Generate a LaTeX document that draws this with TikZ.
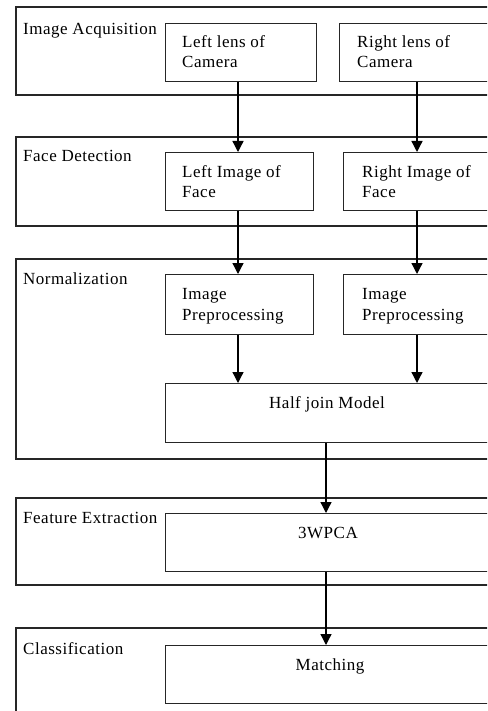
\documentclass[tikz,border=0pt]{standalone}
\usepackage{fontspec}
\setmainfont{Liberation Serif}[LetterSpace=3]
\usetikzlibrary{arrows.meta}
\begin{document}
\begin{tikzpicture}[x=1pt,y=-1pt,
  stage/.style={draw=black!85,line width=1.3pt},
  boxx/.style={draw=black!85,line width=1.2pt,inner sep=0pt,anchor=north west},
  txt/.style={anchor=base west,inner sep=0pt,align=left,font=\fontsize{17}{20.5}\selectfont},
  lbl/.style={anchor=base west,inner sep=0pt,font=\fontsize{17}{20}\selectfont},
  ctr/.style={anchor=base,inner sep=0pt,font=\fontsize{17}{20}\selectfont},
  flow/.style={line width=1.3pt,-{Triangle[width=11pt,length=11pt]}}]
\useasboundingbox (0,0) rectangle (487,711);
\clip (0,0) rectangle (487,711);
% stages
\draw[stage] (16,7) rectangle (530,95);
\draw[stage] (16,137) rectangle (530,226);
\draw[stage] (16,259) rectangle (530,459);
\draw[stage] (16,498) rectangle (530,585);
\draw[stage] (16,628) rectangle (530,740);
\node[lbl] (l1) at (23,35) {Image Acquisition};
\node[lbl] (l2) at (23,162) {Face Detection};
\node[lbl] (l3) at (23,284) {Normalization};
\node[lbl] (l4) at (23,523) {Feature Extraction};
\node[lbl] (l5) at (23,654) {Classification};
% boxes
\node[boxx,minimum width=151pt,minimum height=58pt] (lc) at (165,23) {};
\node[boxx,minimum width=156pt,minimum height=58pt] (rc) at (339,23) {};
\node[boxx,minimum width=148pt,minimum height=58pt] (lf) at (165,152) {};
\node[boxx,minimum width=152pt,minimum height=58pt] (rf) at (343,152) {};
\node[boxx,minimum width=148pt,minimum height=60pt] (lp) at (165,274) {};
\node[boxx,minimum width=152pt,minimum height=60pt] (rp) at (343,274) {};
\node[boxx,minimum width=325pt,minimum height=59pt] (hj) at (165,383) {};
\node[boxx,minimum width=325pt,minimum height=58pt] (pca) at (165,513) {};
\node[boxx,minimum width=325pt,minimum height=58pt] (mt) at (165,645) {};
% texts (base = last line baseline)
\node[txt] (tlc) at (182,68) {Left lens of\\Camera};
\node[txt] (trc) at (357,68) {Right lens of\\Camera};
\node[txt] (tlf) at (182,197.5) {Left Image of\\Face};
\node[txt] (trf) at (362,197.5) {Right Image of\\Face};
\node[txt] (tlp) at (182,320) {Image\\Preprocessing};
\node[txt] (trp) at (362,320) {Image\\Preprocessing};
\node[ctr] (thj) at (327,408) {Half join Model};
\node[ctr] (tpca) at (328,538) {3WPCA};
\node[ctr] (tmt) at (330,670) {Matching};
% arrows
\draw[flow] (lc.south -| 238,0) -- (lf.north -| 238,0);
\draw[flow] (rc.south -| 417,0) -- (rf.north -| 417,0);
\draw[flow] (lf.south -| 238,0) -- (lp.north -| 238,0);
\draw[flow] (rf.south -| 417,0) -- (rp.north -| 417,0);
\draw[flow] (lp.south -| 238,0) -- (hj.north -| 238,0);
\draw[flow] (rp.south -| 417,0) -- (hj.north -| 417,0);
\draw[flow] (hj.south -| 326,0) -- (pca.north -| 326,0);
\draw[flow] (pca.south -| 326,0) -- (mt.north -| 326,0);
\end{tikzpicture}
\end{document}
